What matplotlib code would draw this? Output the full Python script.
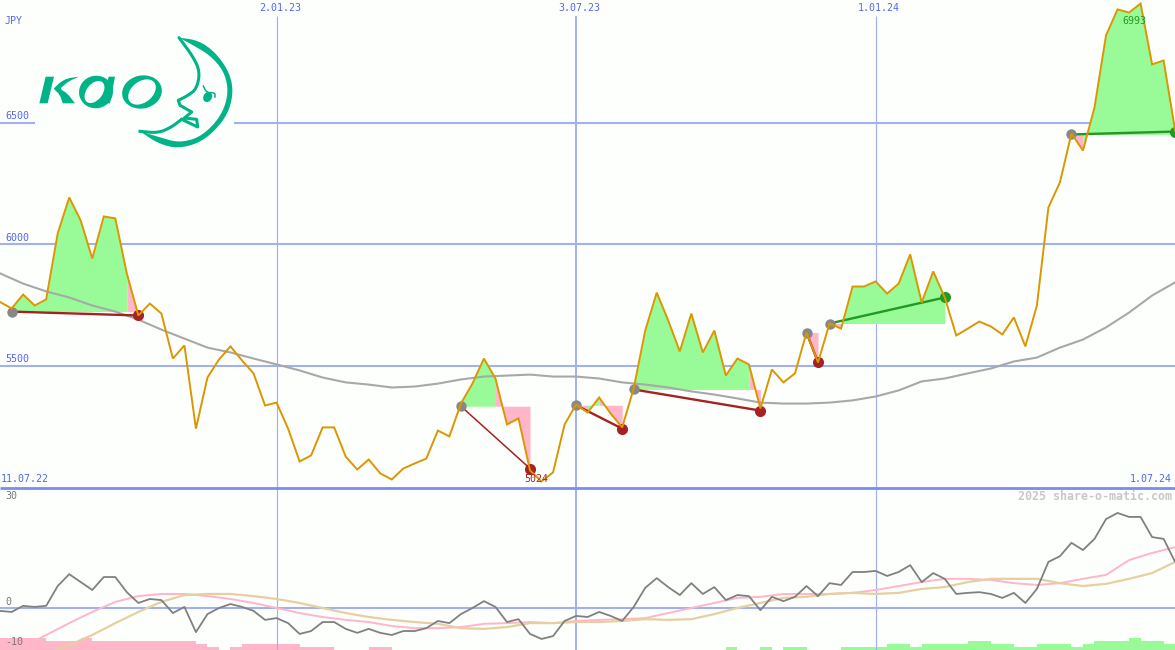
import matplotlib
matplotlib.use("Agg")
import matplotlib.pyplot as plt
from matplotlib.patches import Polygon, Ellipse, Rectangle

# ---------- data ----------
price = [5762,5736,5793,5748,5773,6044,6192,6097,5941,6114,6106,5880,5707,5756,5715,5530,5584,5242,5452,5526,
         5580,5522,5469,5337,5349,5242,5107,5132,5247,5247,5127,5074,5115,5058,5033,5078,5099,5119,5234,5210,
         5345,5427,5530,5448,5259,5284,5070,5025,5062,5259,5341,5308,5370,5304,5247,5407,5645,5801,5686,5559,
         5715,5555,5645,5460,5530,5506,5325,5485,5432,5469,5637,5514,5674,5653,5826,5826,5847,5797,5838,5958,
         5760,5888,5781,5625,5653,5682,5662,5629,5699,5580,5748,6151,6254,6455,6385,6562,6858,6965,6952,6989,
         6739,6755,6467]
ma_idx = list(range(0, 103, 2))
ma_price = [5880,5838,5806,5781,5748,5723,5690,5649,5612,5575,5555,5530,5506,5481,5452,5432,5423,5411,5415,5427,
            5444,5456,5460,5464,5456,5456,5448,5432,5423,5411,5395,5382,5366,5349,5345,5345,5349,5358,5374,5399,
            5436,5448,5469,5489,5518,5534,5575,5608,5658,5719,5789,5843]
osc = [-0.8,-1.1,0.6,0.3,0.6,6.1,9.4,7.2,5,8.6,8.6,4.4,1.4,2.5,2.2,-1.4,0.3,-6.7,-1.7,0,
       1.1,0.3,-0.8,-3.3,-2.8,-4.2,-7.2,-6.4,-3.9,-3.9,-5.8,-6.9,-5.8,-6.9,-7.5,-6.4,-6.4,-5.6,-3.6,-4.2,
       -1.7,0,1.9,0.3,-3.9,-3.1,-7.2,-8.6,-7.8,-3.6,-2.2,-2.5,-1.1,-2.2,-3.6,0.3,5.6,8.3,5.8,3.6,
       6.9,3.9,5.8,2.2,3.6,3.3,-0.6,3.1,1.9,3.1,6.1,3.3,6.9,6.4,10,10,10.3,8.9,10,11.9,
       7.2,9.7,8.1,3.9,4.2,4.4,3.9,2.8,4.2,1.4,5.3,12.8,14.4,18.1,16.1,19.2,24.7,26.4,25.3,25.3,
       19.7,19.2,12.8]
pink_idx = list(range(0, 103, 2))
osc_pink = [-12.2,-10.8,-7.5,-4.2,-1.1,1.7,3.3,3.9,3.9,3.3,2.5,1.4,0,-1.4,-2.5,-3.3,-3.9,-5,-5.6,-5.6,
            -5.3,-4.4,-4.2,-3.9,-4.2,-3.6,-3.3,-3.1,-2.8,-1.4,0,1.4,2.8,3.1,3.9,3.9,3.9,4.2,5,6.1,
            7.2,8.1,8.1,7.8,6.9,6.4,6.9,8.1,9.2,13.3,15.3,16.9]
tan_idx = list(range(4, 103, 2))
osc_tan = [-12.8,-10.3,-7.5,-4.2,-1.1,1.7,3.6,3.9,3.9,3.3,2.5,1.4,0,-1.4,-2.5,-3.3,-3.9,-4.4,-5.6,-5.8,
           -5.3,-4.2,-4.2,-3.9,-3.9,-3.6,-3.1,-3.3,-3.1,-1.7,0,1.4,2.8,3.1,3.9,4.2,3.9,4.2,5.3,5.8,
           7.2,8.1,8.1,8.1,6.9,6.1,6.7,8.1,9.7,12.8]
bars = [-4,-4,-4,-4,-3,-3,-3,-4,-3,-3,-3,-3,-3,-3,-3,-3,-3,-2,-1,0,-1,-2,-2,-2,-2,-2,-1,-1,-1,0,0,0,-1,-1,
        0,0,0,0,0,0,0,0,0,0,0,0,0,0,0,0,0,0,0,0,0,0,0,0,0,0,0,0,0,1,0,0,1,0,1,1,0,0,0,
        1,1,1,1,2,2,1,2,2,2,2,3,3,2,2,1,1,2,2,2,1,2,3,3,3,4,3,3,2]
trade_start = [1,40,50,55,70,72,93]
trade_end = [12,46,54,66,71,82,102]
entry = [5723,5334,5338,5403,5637,5674,6451]
exit_ = [5707,5078,5242,5316,5514,5781,6463]
price_ticks = [6500,6000,5500]
date_idx = [24,50,76]
date_labels = ["2.01.23","3.07.23","1.01.24"]

# ---------- style ----------
BG = "#fdfffd"
GRID = "#a3b0f0"
BASE = "#7a8cf0"
TXT = "#5566ee"
ORANGE = "#dc9600"
GREEN_FILL = "#98fb98"
PINK_FILL = "#ffb6c8"
MA_GRAY = "#a8a8a8"
LOGO = "#00b488"
RED = "#a52222"
GREEN = "#229922"
MONO = "DejaVu Sans Mono"

W, H = 1175, 650
fig = plt.figure(figsize=(W/100, H/100), dpi=100, facecolor=BG)
XL = (-0.1/11.52, (W-0.1)/11.52)
SPLIT = 487.5

ax = fig.add_axes([0, (H-SPLIT)/H, 1, SPLIT/H], facecolor=BG)
ax.set_xlim(*XL); ax.set_ylim(5000, 5000+SPLIT*4.11); ax.axis("off")
axb = fig.add_axes([0, 0, 1, (H-SPLIT)/H], facecolor=BG)
axb.set_xlim(*XL); axb.set_ylim(0, (H-SPLIT)/3); axb.axis("off")
axo = fig.add_axes([0, 0, 1, (H-SPLIT)/H], facecolor="none")
axo.set_xlim(*XL); axo.set_ylim((608-650)/3.6, (608-SPLIT)/3.6); axo.axis("off")

# grid
for v in price_ticks:
    ax.axhline(v, color=GRID, lw=1.5, zorder=1)
for d in date_idx:
    w = 1.4 if d == 50 else 0.85
    ax.plot([d, d], [5000, 5000+(SPLIT-16)*4.11], color=GRID, lw=w, zorder=1, solid_capstyle="butt")
    axo.axvline(d, color=GRID, lw=w, zorder=1)
axo.axhline(0, color=GRID, lw=1.5, zorder=1)

# trade shading: runs of segments of one colour
x = list(range(len(price)))
for s, e, en in zip(trade_start, trade_end, entry):
    i = s
    while i < e:
        up = price[i+1] >= en
        j = i + 1
        while j < e and (price[j+1] >= en) == up:
            j += 1
        ax.fill_between(x[i:j+1], price[i:j+1], en, color=GREEN_FILL if up else PINK_FILL, lw=0, zorder=2)
        i = j

ax.plot(ma_idx, ma_price, color=MA_GRAY, lw=1.5, zorder=3)

# trade lines and markers
for s, e, en, ex in zip(trade_start, trade_end, entry, exit_):
    c = GREEN if ex > en else RED
    ax.plot([s, e], [en, ex], color=c, lw=1.1 if s == 40 else 1.7, zorder=4)
    ax.plot([s], [en], "o", ms=7.5, color="#888888", mew=0, zorder=4)
    ax.plot([e], [ex], "o", ms=8, color=c, mew=0, zorder=4)

ax.plot(x, price, color=ORANGE, lw=1.4, zorder=5, solid_joinstyle="miter")

# lower panel
axb.bar([i+0.5 for i in range(len(bars))], [abs(b) for b in bars], width=1.0,
        color=[GREEN_FILL if b > 0 else PINK_FILL for b in bars], lw=0)
axo.plot(pink_idx, osc_pink, color="#ffb6c8", lw=1.4, zorder=3)
axo.plot(tan_idx, osc_tan, color="#e6cfa0", lw=1.6, zorder=3)
axo.plot(x, osc, color="#808080", lw=1.3, zorder=4)

# overlay in pixel space for labels and logo
ov = fig.add_axes([0, 0, 1, 1], facecolor="none")
ov.set_xlim(0, W); ov.set_ylim(H, 0); ov.axis("off")
ov.plot([0, W], [SPLIT, SPLIT], color=BASE, lw=2.0, zorder=5, solid_capstyle="butt")

def t(px, py, s, color=TXT, ha="left", size=7.2, weight="normal"):
    ov.text(px, py, s, color=color, ha=ha, va="center", fontsize=size, family=MONO, weight=weight, zorder=20)

t(5, 21, "JPY")
for v, py in zip(price_ticks, [116, 238, 359]):
    t(5, py, str(v))
for lab, d in zip(date_labels, date_idx):
    t(d*11.52+3.5, 8, lab, ha="center")
t(1, 479, "11.07.22")
t(1172, 479, "1.07.24", ha="right")
t(536, 479, "5024", color=RED, ha="center")
t(1134, 21, "6993", color=GREEN, ha="center")
t(5, 496, "30", color="#777777")
t(5, 602, "0", color="#777777")
t(5, 642, "-10", color="#777777")
t(1172, 496, "2025 share-o-matic.com", color="#c8c8c8", ha="right", size=8.4, weight="bold")

# logo (graphic only)
ov.add_patch(Rectangle((35, 30), 199, 125, fc=BG, ec="none", zorder=6))

def chaikin(pts, n=2):
    for _ in range(n):
        out = [pts[0]]
        for a, b in zip(pts[:-1], pts[1:]):
            out.append((0.75*a[0]+0.25*b[0], 0.75*a[1]+0.25*b[1]))
            out.append((0.25*a[0]+0.75*b[0], 0.25*a[1]+0.75*b[1]))
        out.append(pts[-1])
        pts = out
    return pts

mz = lambda pts: [(135+a/3, 32+b/3) for a, b in pts]   # moon crop
kz = lambda pts: [(30+a/3, 65+b/3) for a, b in pts]    # letters crop

outer = [(132,17),(190,25),(240,60),(280,115),(295,170),(285,230),(255,280),(200,330),(130,350),(70,335),(15,298)]
inner = [(15,298),(75,316),(130,332),(190,318),(240,275),(270,225),(280,170),(265,115),(225,70),(175,40),(132,17)]
ov.add_patch(Polygon(mz(chaikin(outer)+chaikin(inner)), fc=LOGO, ec="none", zorder=7))
upper = [(132,17),(175,75),(195,120),(185,170),(160,190),(130,205)]
ov.plot(*zip(*mz(chaikin(upper))), color=LOGO, lw=2.2, zorder=7, solid_capstyle="round")
nose = [(130,205),(135,220),(170,240),(148,258),(185,262),(188,285),(140,262)]
ov.plot(*zip(*mz(nose)), color=LOGO, lw=2.2, zorder=7, solid_joinstyle="round", solid_capstyle="round")
lower = [(140,262),(110,285),(70,303),(15,298)]
ov.plot(*zip(*mz(chaikin(lower))), color=LOGO, lw=2.2, zorder=7)
ov.add_patch(Ellipse(mz([(218,195)])[0], 8.5, 10.5, angle=30, fc=LOGO, ec="none", zorder=7))
lash = [(205,162),(215,182),(240,182),(240,195)]
ov.plot(*zip(*mz(chaikin(lash))), color=LOGO, lw=1.1, zorder=7)
# K
ov.add_patch(Polygon(kz([(47,35),(72,35),(53,115),(28,115)]), fc=LOGO, ec="none", zorder=7))
ov.add_patch(Polygon(kz(chaikin([(72,70),(90,52),(112,40),(147,35)], 1)+chaikin([(147,35),(118,48),(100,62),(90,72),(112,85),(135,115)], 1)
                        +[(98,115)]+chaikin([(98,115),(90,90),(72,72)], 1)), fc=LOGO, ec="none", zorder=7))
# a
ov.add_patch(Ellipse((96, 92), 34, 32.5, angle=-12, fc=LOGO, ec="none", zorder=7))
ov.add_patch(Ellipse((94.5, 92), 25, 16, angle=-52, fc=BG, ec="none", zorder=8))
ov.add_patch(Polygon(kz([(236,35),(255,35),(240,115),(216,115)]), fc=LOGO, ec="none", zorder=9))
# o
ov.add_patch(Ellipse((142, 92), 40, 33, angle=-12, fc=LOGO, ec="none", zorder=7))
ov.add_patch(Ellipse((142, 92), 31, 21, angle=-38, fc=BG, ec="none", zorder=8))

fig.savefig("out.png", dpi=100, facecolor=BG)
